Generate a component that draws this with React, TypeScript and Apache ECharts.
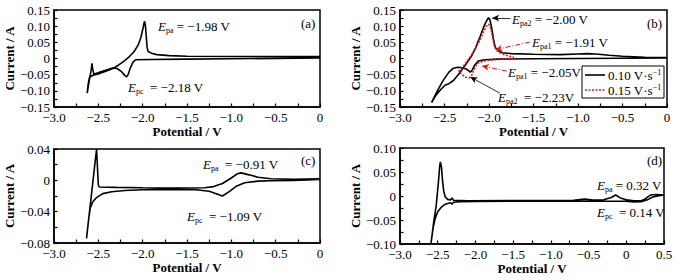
import React, { useEffect, useRef } from 'react';
import * as echarts from 'echarts';

// ---- data: [potential (V), current (A)] in scan order ----
const cvA: [number, number][] = [
  [0, 0.002], [-0.5, 0.0005], [-1.0, -0.001], [-1.5, -0.002], [-1.9, -0.003], [-2.08, -0.004],
  [-2.11, -0.012], [-2.14, -0.03], [-2.165, -0.05], [-2.18, -0.057], [-2.2, -0.053], [-2.24, -0.04],
  [-2.29, -0.031], [-2.33, -0.029], [-2.4, -0.035], [-2.48, -0.042], [-2.55, -0.049], [-2.565, -0.03],
  [-2.572, -0.015], [-2.58, -0.035], [-2.595, -0.057], [-2.61, -0.08], [-2.625, -0.107],
  [-2.615, -0.08], [-2.6, -0.058], [-2.56, -0.052], [-2.48, -0.046], [-2.4, -0.038], [-2.33, -0.03],
  [-2.27, -0.02], [-2.21, -0.008], [-2.15, 0.006], [-2.1, 0.02], [-2.05, 0.042], [-2.02, 0.065],
  [-1.995, 0.095], [-1.98, 0.115], [-1.97, 0.105], [-1.96, 0.07], [-1.95, 0.035], [-1.94, 0.022],
  [-1.9, 0.016], [-1.84, 0.012], [-1.7, 0.009], [-1.5, 0.007], [-1.0, 0.006], [-0.5, 0.006], [0, 0.006],
];

const cvB10: [number, number][] = [
  [0, 0.002], [-0.5, 0.001], [-1.0, 0.0], [-1.5, -0.001], [-1.9, -0.002], [-2.05, -0.004],
  [-2.12, -0.008], [-2.16, -0.02], [-2.19, -0.037], [-2.21, -0.042], [-2.24, -0.035], [-2.29, -0.029],
  [-2.35, -0.027], [-2.4, -0.03], [-2.45, -0.042], [-2.52, -0.07], [-2.58, -0.1], [-2.645, -0.136],
  [-2.6, -0.115], [-2.54, -0.095], [-2.49, -0.082], [-2.45, -0.078], [-2.4, -0.068], [-2.35, -0.052],
  [-2.3, -0.033], [-2.25, -0.014], [-2.2, 0.006], [-2.15, 0.033], [-2.1, 0.068], [-2.05, 0.104],
  [-2.02, 0.12], [-2.005, 0.126], [-1.99, 0.12], [-1.97, 0.095], [-1.95, 0.06], [-1.93, 0.035],
  [-1.9, 0.025], [-1.85, 0.018], [-1.75, 0.015], [-1.5, 0.013], [-1.2, 0.012], [-1.0, 0.014],
  [-0.9, 0.015], [-0.8, 0.014], [-0.65, 0.01], [-0.5, 0.007], [-0.25, 0.004], [0, 0.003],
];

const cvB15: [number, number][] = [
  [-1.72, 0.0], [-1.85, -0.002], [-2.0, -0.005], [-2.08, -0.01], [-2.13, -0.015], [-2.16, -0.03],
  [-2.19, -0.05], [-2.22, -0.06], [-2.26, -0.058], [-2.3, -0.05], [-2.34, -0.04],
  [-2.3, -0.028], [-2.25, -0.01], [-2.2, 0.01], [-2.15, 0.032], [-2.1, 0.058], [-2.06, 0.083],
  [-2.03, 0.1], [-2.005, 0.106], [-1.985, 0.098], [-1.97, 0.08], [-1.955, 0.058], [-1.94, 0.038],
  [-1.92, 0.027], [-1.88, 0.018], [-1.83, 0.012], [-1.77, 0.007], [-1.72, 0.004],
];

const cvC: [number, number][] = [
  [0, 0.001], [-0.3, 0.0], [-0.55, -0.0005], [-0.7, -0.001], [-0.85, -0.003], [-0.95, -0.008],
  [-1.02, -0.014], [-1.1, -0.02], [-1.17, -0.017], [-1.25, -0.014], [-1.4, -0.012], [-1.7, -0.0115],
  [-2.0, -0.012], [-2.2, -0.013], [-2.35, -0.0145], [-2.45, -0.017], [-2.52, -0.022], [-2.56, -0.027],
  [-2.59, -0.035], [-2.61, -0.05], [-2.633, -0.074],
  [-2.52, 0.04], [-2.5, -0.006], [-2.49, -0.0085], [-2.3, -0.009], [-2.0, -0.0095], [-1.6, -0.01],
  [-1.3, -0.0095], [-1.2, -0.008], [-1.1, -0.004], [-1.0, 0.003], [-0.93, 0.0085], [-0.89, 0.0095],
  [-0.8, 0.007], [-0.7, 0.004], [-0.55, 0.002], [-0.3, 0.0012], [0, 0.002],
];

const cvD: [number, number][] = [
  [0.5, 0.002], [0.45, 0.001], [0.35, -0.002], [0.28, -0.008], [0.2, -0.012], [0.1, -0.0125],
  [0.0, -0.011], [-0.2, -0.011], [-0.6, -0.011], [-1.0, -0.011], [-1.5, -0.011], [-2.0, -0.0115],
  [-2.2, -0.012], [-2.29, -0.013], [-2.31, -0.017], [-2.33, -0.014], [-2.4, -0.017], [-2.45, -0.023],
  [-2.5, -0.033], [-2.53, -0.045], [-2.56, -0.065], [-2.59, -0.1],
  [-2.55, -0.05], [-2.52, -0.02], [-2.49, 0.03], [-2.475, 0.06], [-2.465, 0.071], [-2.45, 0.06],
  [-2.435, 0.03], [-2.42, 0.01], [-2.4, -0.002], [-2.37, -0.007], [-2.33, -0.008], [-2.31, -0.004],
  [-2.29, -0.009], [-2.1, -0.01], [-1.5, -0.0095], [-1.0, -0.0095], [-0.7, -0.009], [-0.55, -0.0065],
  [-0.45, -0.0085], [-0.3, -0.008], [-0.2, -0.003], [-0.14, 0.002], [-0.08, -0.004], [0.0, -0.008],
  [0.1, -0.01], [0.2, -0.01], [0.25, -0.006], [0.32, 0.002], [0.4, 0.003], [0.5, 0.002],
];

// axis ranges per panel: [xMin, xMax, xStep, yMin, yMax, yStep]
const panelRanges: number[][] = [
  [-3, 0, 0.5, -0.15, 0.15, 0.05],
  [-3, 0, 0.5, -0.15, 0.15, 0.05],
  [-3, 0, 0.5, -0.08, 0.04, 0.04],
  [-3, 0.5, 0.5, -0.1, 0.1, 0.05],
];

const legendLabels = ['0.10 V·s', '0.15 V·s'];

// annotation arrows in panel (b), data coordinates [from, to]
const arrowsB: { from: [number, number]; to: [number, number]; red: boolean }[] = [
  { from: [-1.76, 0.125], to: [-1.965, 0.125], red: false },
  { from: [-1.54, 0.051], to: [-1.93, 0.027], red: true },
  { from: [-1.8, -0.039], to: [-2.08, -0.023], red: true },
  { from: [-1.88, -0.107], to: [-2.21, -0.057], red: false },
];

const FONT = 'Liberation Serif';
const RED = '#e8161b';

function fmtX(v: number) {
  if (Math.abs(v) < 1e-9) return '0';
  return v.toFixed(1).replace('-', '−');
}
function fmtY(v: number) {
  if (Math.abs(v) < 1e-9) return '0';
  return v.toFixed(2).replace('-', '−');
}

const annRich = {
  e: { fontStyle: 'italic', fontSize: 13, fontFamily: FONT, lineHeight: 16, verticalAlign: 'middle', fill: '#000' },
  s: { fontSize: 8, fontFamily: FONT, lineHeight: 16, verticalAlign: 'bottom', fill: '#000' },
  t: { fontSize: 13, fontFamily: FONT, lineHeight: 16, verticalAlign: 'middle', fill: '#000' },
};

function ann(x: number, y: number, sub: string, rest: string) {
  return {
    type: 'text',
    x,
    y,
    style: {
      text: `{e|E}{s|${sub}}{t|${rest}}`,
      rich: annRich,
      verticalAlign: 'middle',
      align: 'left',
    },
  };
}
function plain(x: number, y: number, txt: string) {
  return {
    type: 'text',
    x,
    y,
    style: { text: txt, fontFamily: FONT, fontSize: 13, fill: '#000', verticalAlign: 'middle', align: 'left' },
  };
}
function legendText(x: number, y: number, txt: string) {
  return {
    type: 'text',
    x,
    y,
    z: 20,
    style: {
      text: `{m|${txt}}{u|−1}`,
      verticalAlign: 'middle',
      align: 'left',
      rich: {
        m: { fontFamily: FONT, fontSize: 13, fill: '#000', lineHeight: 14, verticalAlign: 'middle' },
        u: { fontFamily: FONT, fontSize: 8, fill: '#000', lineHeight: 14, verticalAlign: 'top' },
      },
    },
  };
}

export default function App() {
  const ref = useRef<HTMLDivElement>(null);
  useEffect(() => {
    if (!ref.current) return;
    const chart = echarts.init(ref.current, undefined, { renderer: 'svg' });
    const grids = [
      { left: 54, top: 10, width: 266, height: 97 },
      { left: 400, top: 10, width: 267, height: 97 },
      { left: 54, top: 149, width: 266, height: 94 },
      { left: 400, top: 148, width: 264, height: 96 },
    ].map((g) => ({ ...g, show: true, borderColor: '#000', borderWidth: 1.5, backgroundColor: 'transparent' }));

    const axisCommon = {
      axisLine: { show: true, onZero: false, lineStyle: { color: '#000', width: 1.5 } },
      axisTick: { show: true, inside: true, length: 3.5, lineStyle: { color: '#000', width: 1.2 } },
      minorTick: { show: true, splitNumber: 2, length: 3.5, lineStyle: { color: '#000', width: 1.2 } },
      splitLine: { show: false },
      minorSplitLine: { show: false },
    };

    const xAxis = panelRanges.map((r, i) => ({
      type: 'value',
      gridIndex: i,
      min: r[0],
      max: r[1],
      interval: r[2],
      name: 'Potential / V',
      nameLocation: 'middle',
      nameGap: i < 2 ? 14 : 18,
      nameTextStyle: { fontFamily: FONT, fontWeight: 'bold', fontSize: 13, color: '#000' },
      axisLabel: { formatter: fmtX, fontFamily: FONT, fontSize: 13, color: '#000', margin: 4 },
      ...axisCommon,
    }));
    const yAxis = panelRanges.map((r, i) => ({
      type: 'value',
      gridIndex: i,
      min: r[3],
      max: r[4],
      interval: r[5],
      name: 'Current / A',
      nameLocation: 'middle',
      nameGap: 33,
      nameTextStyle: { fontFamily: FONT, fontWeight: 'bold', fontSize: 13, color: '#000' },
      axisLabel: { formatter: fmtY, fontFamily: FONT, fontSize: 13, color: '#000', margin: 4 },
      ...axisCommon,
    }));

    const black = { color: '#000', width: 1.6 };
    const series: any[] = [
      { name: 'a', type: 'line', xAxisIndex: 0, yAxisIndex: 0, data: cvA, symbol: 'none', lineStyle: black },
      {
        name: 'b10', type: 'line', xAxisIndex: 1, yAxisIndex: 1, data: cvB10, symbol: 'none',
        lineStyle: black,
        markLine: {
          silent: true,
          symbol: ['none', 'arrow'],
          symbolSize: [5, 7],
          label: { show: false },
          data: arrowsB.map((a) => [
            {
              coord: a.from,
              lineStyle: a.red
                ? { color: RED, width: 1, type: [5, 2, 1, 2] }
                : { color: '#000', width: 0.8, type: 'solid' },
              itemStyle: { color: a.red ? RED : '#000' },
            },
            { coord: a.to },
          ]),
        },
      },
      {
        name: 'b15', type: 'line', xAxisIndex: 1, yAxisIndex: 1, data: cvB15, symbol: 'none',
        lineStyle: { color: RED, width: 1.6, type: [2, 1.5] }, z: 3,
      },
      { name: 'c', type: 'line', xAxisIndex: 2, yAxisIndex: 2, data: cvC, symbol: 'none', lineStyle: black },
      { name: 'd', type: 'line', xAxisIndex: 3, yAxisIndex: 3, data: cvD, symbol: 'none', lineStyle: black },
    ];

    chart.setOption({
      animation: false,
      textStyle: { fontFamily: FONT },
      grid: grids,
      xAxis,
      yAxis,
      series,
      graphic: [
        ann(158, 26, 'pa', ' = −1.98 V'),
        ann(128, 87, 'pc', '  = −2.18 V'),
        plain(301, 23, '(a)'),
        ann(512, 19, 'pa2', ' = −2.00 V'),
        ann(532, 42, 'pa1', ' = −1.91 V'),
        ann(508, 72, 'pa1', ' = −2.05V'),
        ann(498, 97, 'pa2', '  = −2.23V'),
        plain(647, 23, '(b)'),
        ann(203, 164, 'pa', '  = −0.91 V'),
        ann(187, 216, 'pc', '  = −1.09 V'),
        plain(301, 160, '(c)'),
        plain(647, 160, '(d)'),
        ann(597, 185, 'pa', ' = 0.32 V'),
        ann(597, 212, 'pc', '  = 0.14 V'),
        // legend box
        {
          type: 'rect', z: 19,
          shape: { x: 582, y: 66, width: 82, height: 32 },
          style: { fill: '#fff', stroke: '#000', lineWidth: 1 },
        },
        {
          type: 'line', z: 20,
          shape: { x1: 585, y1: 75, x2: 605, y2: 75 },
          style: { stroke: '#000', lineWidth: 1.6 },
        },
        {
          type: 'line', z: 20,
          shape: { x1: 585, y1: 90, x2: 605, y2: 90 },
          style: { stroke: RED, lineWidth: 1.6, lineDash: [2, 1.5] },
        },
        legendText(608, 75, legendLabels[0]),
        legendText(608, 90, legendLabels[1]),
      ],
    });
    return () => chart.dispose();
  }, []);
  return <div ref={ref} style={{ position: 'absolute', left: 0, top: 0, width: 695, height: 280 }} />;
}
